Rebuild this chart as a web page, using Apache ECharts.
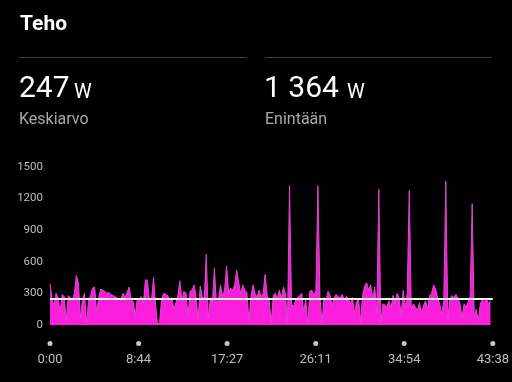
<!DOCTYPE html>
<html><head><meta charset="utf-8">
<script src="https://cdn.jsdelivr.net/npm/echarts@6/dist/echarts.min.js"></script>
<style>html,body{margin:0;padding:0;background:#000;}#c{width:512px;height:382px;}</style>
</head><body><div id="c"></div>
<script>
const TITLE = 'Teho';
const AVG_W = 247;
const MAX_W = 1364;
const STAT_LABELS = ['Keskiarvo', 'Enintään'];
const SAMPLE_SEC = 12;
const TOTAL_SEC = 2618;
const TICK_SEC = [0, 524, 1047, 1571, 2094, 2618];
const Y_TICKS = [0, 300, 600, 900, 1200, 1500];
const POWER_W = [
390,250,180,300,260,120,290,270,40,280,260,230,300,470,400,60,250,300,20,230,
280,350,360,120,260,340,330,320,300,310,290,280,270,260,230,250,300,260,310,360,
250,220,90,250,240,270,200,430,420,230,230,450,200,0,30,250,300,290,280,240,
260,150,210,280,420,230,320,300,90,320,330,380,260,50,370,270,250,670,60,260,
210,540,200,240,380,270,330,560,300,350,330,380,520,400,290,380,330,310,40,270,
380,300,260,330,270,300,480,280,230,20,280,300,250,330,260,360,300,10,1320,200,
170,240,260,280,300,120,250,10,320,330,280,330,1320,270,20,260,240,320,280,180,
260,290,270,260,290,240,270,250,200,260,110,220,250,30,280,370,400,330,380,250,
360,100,1283,20,200,190,170,230,160,280,200,300,260,90,330,160,300,1274,150,200,
170,140,210,120,180,230,150,280,300,380,340,260,200,100,230,1364,60,240,280,260,
290,250,200,70,200,170,220,270,1150,80,150,40,200,240,220,250,200,230
];

function fmt(v){ const s = Math.round(v); const m = Math.floor(s/60); const r = s%60; return m + ':' + (r<10?'0':'') + r; }

const chart = echarts.init(document.getElementById('c'));
const seriesData = POWER_W.map((w,i)=>[i*SAMPLE_SEC, w]);
const F = 'Roboto, "Noto Sans", sans-serif';

chart.setOption({
  backgroundColor: '#000',
  animation: false,
  grid: {left: 50, right: 18, top: 166.7, bottom: 57},
  xAxis: {
    type: 'value', min: 0, max: TOTAL_SEC, interval: TOTAL_SEC/5,
    axisLine: {show: false}, axisTick: {show: false}, splitLine: {show: false},
    axisLabel: {color: '#bdbdbd', fontSize: 13, fontFamily: F, margin: 28, formatter: fmt, showMaxLabel: true, showMinLabel: true}
  },
  yAxis: {
    type: 'value', min: Y_TICKS[0], max: Y_TICKS[Y_TICKS.length-1], interval: Y_TICKS[1]-Y_TICKS[0],
    axisLine: {show: false}, axisTick: {show: false}, splitLine: {show: false},
    axisLabel: {color: '#bdbdbd', fontSize: 11.5, fontFamily: F, margin: 7, formatter: v => String(v)}
  },
  series: [{
    type: 'line', data: seriesData, symbol: 'none', smooth: false,
    lineStyle: {color: '#e048cc', width: 1},
    areaStyle: {color: new echarts.graphic.LinearGradient(0,0,0,1,[{offset:0,color:'#d020c0'},{offset:1,color:'#ff1ee0'}]), opacity: 1},
    markLine: {silent: true, symbol: 'none', label: {show: false},
      lineStyle: {color: '#f2f2f2', width: 2, type: 'solid'},
      data: [{yAxis: AVG_W}]}
  }]
});

const dots = TICK_SEC.map(t => {
  const p = chart.convertToPixel({xAxisIndex: 0, yAxisIndex: 0}, [t, 0]);
  return {type: 'circle', shape: {cx: p[0], cy: p[1] + 18.5, r: 2.5}, style: {fill: '#c8c8c8'}, silent: true};
});

function fmtNum(n){ return String(n).replace(/\B(?=(\d{3})+(?!\d))/g, ' '); }

chart.setOption({
  graphic: [
    {type: 'text', x: 20, y: 24.5, style: {text: TITLE, fill: '#fff', font: 'bold 21px ' + F, verticalAlign: 'middle'}},
    {type: 'line', shape: {x1: 19, y1: 57.5, x2: 247, y2: 57.5}, style: {stroke: '#3c3c3c', lineWidth: 1}},
    {type: 'line', shape: {x1: 265, y1: 57.5, x2: 492, y2: 57.5}, style: {stroke: '#3c3c3c', lineWidth: 1}},
    {type: 'text', x: 19, y: 89, style: {text: fmtNum(AVG_W), fill: '#fff', font: '30px ' + F, verticalAlign: 'middle'}},
    {type: 'text', x: 74, y: 93, style: {text: 'W', fill: '#fff', font: '20px ' + F, verticalAlign: 'middle'}},
    {type: 'text', x: 19, y: 120, style: {text: STAT_LABELS[0], fill: '#a8a8a8', font: '16px ' + F, verticalAlign: 'middle'}},
    {type: 'text', x: 264, y: 89, style: {text: fmtNum(MAX_W), fill: '#fff', font: '30px ' + F, verticalAlign: 'middle'}},
    {type: 'text', x: 347, y: 93, style: {text: 'W', fill: '#fff', font: '20px ' + F, verticalAlign: 'middle'}},
    {type: 'text', x: 265, y: 120, style: {text: STAT_LABELS[1], fill: '#a8a8a8', font: '16px ' + F, verticalAlign: 'middle'}}
  ].concat(dots)
});
</script></body></html>
